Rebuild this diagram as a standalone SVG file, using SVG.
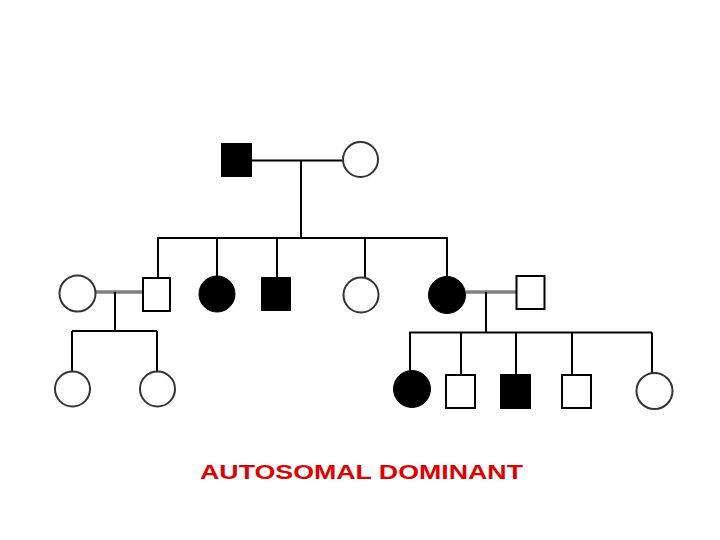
<svg xmlns="http://www.w3.org/2000/svg" width="720" height="540" viewBox="0 0 720 540">
<style>
.ln{stroke:#000;stroke-width:2;fill:none}
.mate{stroke:#808080;stroke-width:3.5;fill:none}
.sq{fill:#fff;stroke:#000;stroke-width:2}
.sqa{fill:#000;stroke:#000;stroke-width:2}
.ci{fill:#fff;stroke:#333;stroke-width:2}
.cia{fill:#000;stroke:#000;stroke-width:1}
.title{font-family:"Liberation Sans",Arial,sans-serif;font-weight:bold;font-size:20px;fill:#e00000}
</style>
<rect width="720" height="540" fill="#fff"/>
<g id="connectors">
<path class="ln" d="M252 160.5H343M301 160.5V238M157 238H448M158 238V278M217 238V277M277 238V277M365 238V277M447 238V277"/>
<path class="mate" d="M96 292H142M466 292H516"/>
<path class="ln" d="M115 292V331M72 331H157M72 331V371M157 331V371"/>
<path class="ln" d="M486 292V332.5M409 332.5H652M410 332.5V371M461 332.5V374M516 332.5V374M572 332.5V374M652 332.5V373"/>
</g>
<g id="I-1"><rect class="sqa" x="222" y="144" width="29" height="32"/></g>
<g id="I-2"><circle class="ci" cx="360.5" cy="159.5" r="17.5"/></g>
<g id="II-1"><circle class="ci" cx="77.5" cy="293.5" r="18"/></g>
<g id="II-2"><rect class="sq" x="143" y="278" width="27" height="33"/></g>
<g id="II-3"><circle class="cia" cx="217" cy="294" r="18"/></g>
<g id="II-4"><rect class="sqa" x="262" y="278" width="28" height="32"/></g>
<g id="II-5"><circle class="ci" cx="361" cy="295" r="17.5"/></g>
<g id="II-6"><circle class="cia" cx="447" cy="295" r="18.5"/></g>
<g id="II-7"><rect class="sq" x="516.5" y="276" width="28" height="33"/></g>
<g id="III-1"><circle class="ci" cx="72.5" cy="389" r="17.5"/></g>
<g id="III-2"><circle class="ci" cx="157.5" cy="389" r="17.5"/></g>
<g id="III-3"><circle class="cia" cx="412" cy="389" r="18.5"/></g>
<g id="III-4"><rect class="sq" x="446" y="375" width="29" height="33"/></g>
<g id="III-5"><rect class="sqa" x="501" y="375" width="29" height="33"/></g>
<g id="III-6"><rect class="sq" x="562" y="375" width="29" height="33"/></g>
<g id="III-7"><circle class="ci" cx="654.5" cy="391" r="18"/></g>
<text class="title" x="200" y="479" textLength="323" lengthAdjust="spacingAndGlyphs">AUTOSOMAL DOMINANT</text>
</svg>
